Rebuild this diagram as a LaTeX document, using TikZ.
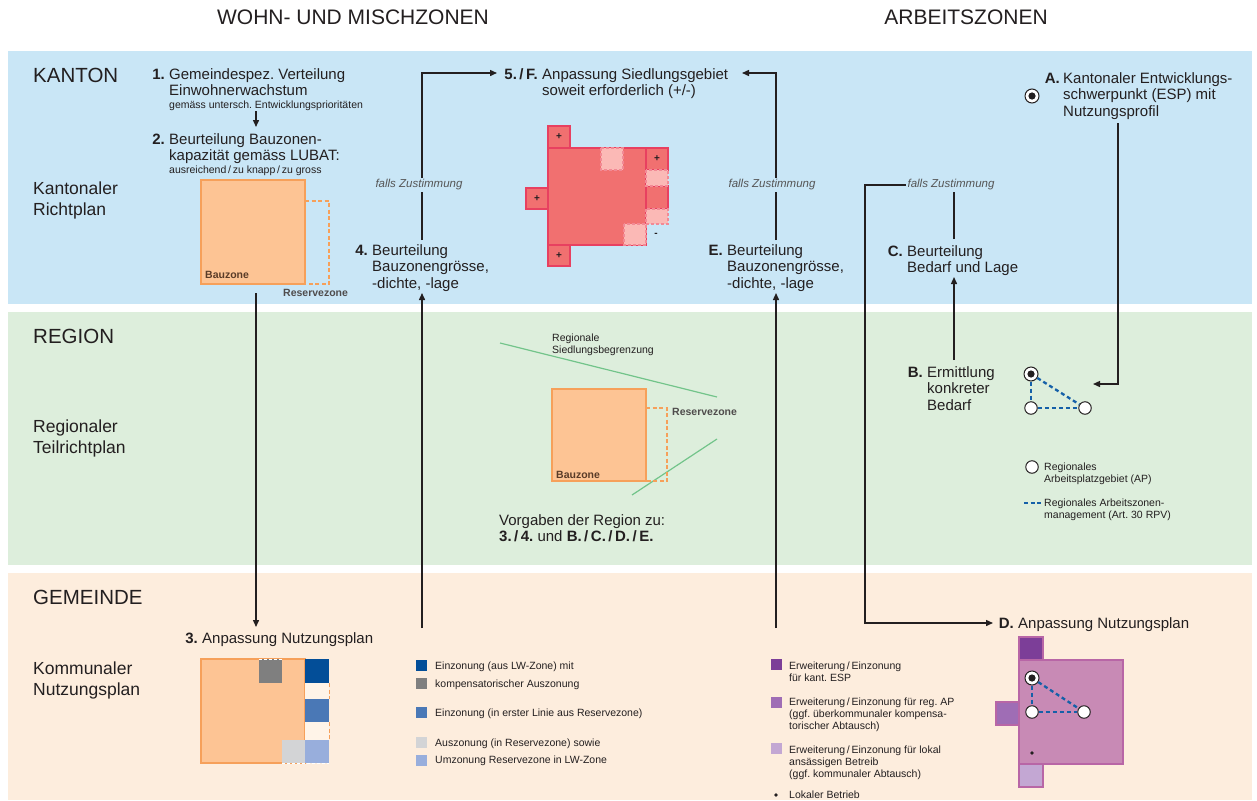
\documentclass[tikz,border=0pt]{standalone}
\usepackage{fontspec}
\setmainfont{Liberation Sans}
\usetikzlibrary{arrows.meta}
\frenchspacing
\definecolor{ink}{HTML}{231F20}
\definecolor{fzc}{HTML}{555555}
\definecolor{bandblue}{HTML}{C9E6F6}
\definecolor{bandgreen}{HTML}{DDEEDC}
\definecolor{bandorange}{HTML}{FDEDDD}
\definecolor{orfill}{HTML}{FDC494}
\definecolor{orbord}{HTML}{F6A05A}
\definecolor{redf}{HTML}{F17070}
\definecolor{redb}{HTML}{E84060}
\definecolor{pinkf}{HTML}{FBB9B6}
\definecolor{pinkb}{HTML}{F28A95}
\definecolor{dblue}{HTML}{034E98}
\definecolor{midgray}{HTML}{7F7F7F}
\definecolor{mblue}{HTML}{4A78B6}
\definecolor{lgray}{HTML}{D3D4D6}
\definecolor{lblue}{HTML}{98AEDC}
\definecolor{creamf}{HTML}{FFF4E8}
\definecolor{purdark}{HTML}{7C3E98}
\definecolor{purmain}{HTML}{C88AB5}
\definecolor{purmid}{HTML}{9F6DB5}
\definecolor{purlight}{HTML}{C3A7D3}
\definecolor{purbord}{HTML}{B866A6}
\definecolor{greenl}{HTML}{72C48A}
\definecolor{dashblue}{HTML}{1560A8}
\definecolor{brownt}{HTML}{5A3C28}
\newcommand{\mlstack}[1]{\begin{tabular}[t]{@{}l@{}}#1\end{tabular}}
\tikzset{
 txt/.style={font=\fontsize{15}{16.5}\selectfont, inner sep=0pt, anchor=base west, text=ink},
 num/.style={font=\fontsize{15}{16.5}\selectfont\bfseries, inner sep=0pt, anchor=base east, text=ink},
 small/.style={font=\fontsize{10.5}{12.2}\selectfont, inner sep=0pt, anchor=base west, text=ink},
 smallb/.style={font=\fontsize{10.5}{12.2}\selectfont\bfseries, inner sep=0pt, anchor=base west, text=#1},
 lvl/.style={font=\fontsize{20.5}{24}\selectfont, inner sep=0pt, anchor=base west, text=ink},
 plan/.style={font=\fontsize{17.5}{21}\selectfont, inner sep=0pt, anchor=base west, text=ink},
 hdr/.style={font=\fontsize{21}{24}\selectfont, inner sep=0pt, anchor=base, text=ink},
 fz/.style={font=\fontsize{11.5}{13}\selectfont\itshape, inner sep=1.5pt, text=fzc},
 ln/.style={draw=ink, line width=1.4pt},
 arr/.style={ln, -{Triangle[length=7pt,width=6pt]}},
 orbox/.style={fill=orfill, draw=orbord, line width=1.2pt},
 ordash/.style={draw=orbord, line width=1.2pt, dash pattern=on 4pt off 2.5pt},
 redbox/.style={fill=redf, draw=redb, line width=1.1pt},
 pinkbox/.style={fill=pinkf, draw=pinkb, line width=1.1pt, dash pattern=on 3pt off 2pt},
 plus/.style={font=\fontsize{10}{12}\selectfont\bfseries, inner sep=0pt, text=ink},
 esp/.style={circle, draw=ink, line width=1pt, fill=white, minimum size=14pt, inner sep=0pt,
   path picture={\fill[ink] (path picture bounding box.center) circle (3.6pt);}},
 apc/.style={circle, draw=ink, line width=1pt, fill=white, minimum size=12.5pt, inner sep=0pt},
 bdash/.style={draw=dashblue, line width=2.3pt, dash pattern=on 4pt off 3pt},
 legsq/.style={inner sep=0pt, minimum size=11pt, fill=#1},
 greenline/.style={draw=greenl, line width=1.2pt},
}
\begin{document}
\begin{tikzpicture}[x=1pt,y=-1pt]
\useasboundingbox (0,0) rectangle (1257,800);
\fill[white] (0,0) rectangle (1257,800);
% bands
\fill[bandblue] (8,51) rectangle (1252,304);
\fill[bandgreen] (8,312) rectangle (1252,565);
\fill[bandorange] (8,573) rectangle (1252,800);

% headers
\node[hdr] (h1) at (353,25) {WOHN- UND MISCHZONEN};
\node[hdr] (h2) at (966,25) {ARBEITSZONEN};

% level labels
\node[lvl] (kanton) at (33,82) {KANTON};
\node[plan] (krp) at (33,194) {\mlstack{Kantonaler\\Richtplan}};
\node[lvl] (region) at (33,343) {REGION};
\node[plan] (rtp) at (33,432) {\mlstack{Regionaler\\Teilrichtplan}};
\node[lvl] (gem) at (33,604) {GEMEINDE};
\node[plan] (knp) at (33,674) {\mlstack{Kommunaler\\Nutzungsplan}};

% ---- Kanton, Wohn
\node[num] (n1) at (165,79) {1.};
\node[txt] (t1) at (169,79) {\mlstack{Gemeindespez. Verteilung\\Einwohnerwachstum}};
\node[small] (t1s) at (169,108) {gemäss untersch. Entwicklungsprioritäten};
\node[num] (n2) at (165,144) {2.};
\node[txt] (t2) at (169,144) {\mlstack{Beurteilung Bauzonen-\\kapazität gemäss LUBAT:}};
\node[small] (t2s) at (169,173) {ausreichend\,/\,zu knapp\,/\,zu gross};

\path[orbox] (201,180) rectangle (305,284);
\draw[ordash] (305,201) -- (329,201) -- (329,284) -- (305,284);
\node[smallb=brownt] (bz1) at (205,278) {Bauzone};
\node[smallb=ink!80] (rz1) at (283,296) {Reservezone};

\node[num] (n4) at (368,255) {4.};
\node[txt] (t4) at (372,255) {\mlstack{Beurteilung\\Bauzonengrösse,\\-dichte, -lage}};

\node[num] (n5) at (538,79) {5.\,/\,F.};
\node[txt] (t5) at (542,79) {\mlstack{Anpassung Siedlungsgebiet\\soweit erforderlich (+/-)}};

% red shape
\path[redbox] (548,148) rectangle (646,245);
\path[redbox] (548,126) rectangle (570,148);
\path[redbox] (548,245) rectangle (570,266);
\path[redbox] (526,188) rectangle (548,209);
\path[redbox] (646,148) rectangle (668,170);
\path[redbox] (646,186) rectangle (668,209);
\path[pinkbox] (646,170) rectangle (668,186);
\path[pinkbox] (646,209) rectangle (668,224);
\path[pinkbox] (601,148) rectangle (623,170);
\path[pinkbox] (624,224) rectangle (646,245);
\node[plus] (pl1) at (559,137) {+};
\node[plus] (pl2) at (559,256) {+};
\node[plus] (pl3) at (537,198.5) {+};
\node[plus] (pl4) at (657,159) {+};
\node[plus] (mi1) at (656,235) {-};

\node[num] (nE) at (723,255) {E.};
\node[txt] (tE) at (727,255) {\mlstack{Beurteilung\\Bauzonengrösse,\\-dichte, -lage}};

% falls Zustimmung
\node[fz] (fz1) at (419,185) {falls Zustimmung};
\node[fz] (fz2) at (772,185) {falls Zustimmung};
\node[fz] (fz3) at (951,185) {falls Zustimmung};

% ---- Kanton, Arbeit
\node[esp] (espA) at (1032,96) {};
\node[num] (nA) at (1060,83) {A.};
\node[txt] (tA) at (1063,83) {\mlstack{Kantonaler Entwicklungs-\\schwerpunkt (ESP) mit\\Nutzungsprofil}};
\node[num] (nC) at (903,256) {C.};
\node[txt] (tC) at (907,256) {\mlstack{Beurteilung\\Bedarf und Lage}};

% ---- Region
\draw[greenline] (500,343) -- (717,397);
\draw[greenline] (632,495) -- (717,439);
\node[small] (rsb) at (552,341.5) {\mlstack{Regionale\\Siedlungsbegrenzung}};
\path[orbox] (552,389) rectangle (646,481);
\draw[ordash] (646,408) -- (667,408) -- (667,481) -- (646,481);
\node[smallb=brownt] (bz2) at (556,478) {Bauzone};
\node[smallb=ink!80] (rz2) at (672,415.5) {Reservezone};
\node[txt] (vorg) at (499,525) {\mlstack{Vorgaben der Region zu:\\\textbf{3.\,/\,4.} und \textbf{B.\,/\,C.\,/\,D.\,/\,E.}}};

\node[num] (nB) at (923,377) {B.};
\node[txt] (tB) at (927,377) {\mlstack{Ermittlung\\konkreter\\Bedarf}};
\node[esp] (e1) at (1031,374) {};
\node[apc] (a1) at (1031,408) {};
\node[apc] (a2) at (1085,408) {};
\draw[bdash] (e1) -- (a1);
\draw[bdash] (a1) -- (a2);
\draw[bdash] (e1) -- (a2);

\node[apc] (legap) at (1032,467) {};
\node[small] (legapt) at (1044,470.5) {\mlstack{Regionales\\Arbeitsplatzgebiet (AP)}};
\coordinate (ld1) at (1024,503);
\coordinate (ld2) at (1041,503);
\draw[bdash, dash pattern=on 4pt off 2.5pt] (ld1) -- (ld2);
\node[small] (legazt) at (1044,506.5) {\mlstack{Regionales Arbeitszonen-\\management (Art. 30 RPV)}};

% ---- Gemeinde, Wohn
\node[num] (n3) at (198,643) {3.};
\node[txt] (t3) at (202,643) {Anpassung Nutzungsplan};
\path[orbox] (201,659) rectangle (305,763);
\fill[midgray] (259,659) rectangle (282,683);
\draw[white, line width=1pt, dash pattern=on 3pt off 2pt] (259,659) -- (282,659);
\fill[dblue] (305,659) rectangle (329,683);
\fill[creamf] (305,683) rectangle (329,699);
\draw[ordash, line width=1pt] (329,683) -- (329,699);
\fill[mblue] (305,699) rectangle (329,722);
\fill[creamf] (305,722) rectangle (329,740);
\draw[ordash, line width=1pt] (329,722) -- (329,740);
\fill[lblue] (305,740) rectangle (329,763);
\fill[lgray] (282,740) rectangle (305,763);
\draw[white, line width=1pt, dash pattern=on 3pt off 2pt] (282,763) -- (329,763);

\node[legsq=dblue] (lq1) at (421.5,665.5) {};
\node[legsq=midgray] (lq2) at (421.5,683.5) {};
\node[legsq=mblue] (lq3) at (421.5,712.5) {};
\node[legsq=lgray] (lq4) at (421.5,742) {};
\node[legsq=lblue] (lq5) at (421.5,760) {};
\node[small] (lt1) at (435,669) {Einzonung (aus LW-Zone) mit};
\node[small] (lt2) at (435,687.5) {kompensatorischer Auszonung};
\node[small] (lt3) at (435,716.5) {Einzonung (in erster Linie aus Reservezone)};
\node[small] (lt4) at (435,746.5) {Auszonung (in Reservezone) sowie};
\node[small] (lt5) at (435,763.5) {Umzonung Reservezone in LW-Zone};

% ---- Gemeinde, Arbeit
\node[num] (nD) at (1014,628) {D.};
\node[txt] (tD) at (1018,628) {Anpassung Nutzungsplan};
\path[fill=purmain, draw=purbord, line width=1.1pt] (1019,660) rectangle (1123,764);
\path[fill=purdark, draw=purbord, line width=1.1pt] (1019,637) rectangle (1043,660);
\path[fill=purmid, draw=purbord, line width=1.1pt] (996,702) rectangle (1019,725);
\path[fill=purlight, draw=purbord, line width=1.1pt] (1019,764) rectangle (1043,787);
\node[esp] (e2) at (1032,678) {};
\node[apc] (b1) at (1032,712) {};
\node[apc] (b2) at (1084,712) {};
\draw[bdash] (e2) -- (b1);
\draw[bdash] (b1) -- (b2);
\draw[bdash] (e2) -- (b2);
\fill[ink] (1032,753) circle (1.8pt);

\node[legsq=purdark] (pq1) at (776.5,664.5) {};
\node[legsq=purmid] (pq2) at (776.5,702.5) {};
\node[legsq=purlight] (pq3) at (776.5,748.5) {};
\fill[ink] (776,795) circle (1.8pt);
\node[small] (pt1) at (789,669.5) {\mlstack{Erweiterung\,/\,Einzonung\\für kant. ESP}};
\node[small] (pt2) at (789,705.5) {\mlstack{Erweiterung\,/\,Einzonung für reg. AP\\(ggf. überkommunaler kompensa-\\torischer Abtausch)}};
\node[small] (pt3) at (789,753.5) {\mlstack{Erweiterung\,/\,Einzonung für lokal\\ansässigen Betreib\\(ggf. kommunaler Abtausch)}};
\node[small] (pt4) at (789,798.5) {Lokaler Betrieb};

% ---- connectors
\coordinate (c12a) at (256,111);
\coordinate (c12b) at (256,127);
\draw[arr] (c12a) -- (c12b);
\coordinate (c23a) at (256,293);
\coordinate (c23b) at (256,627);
\draw[arr] (c23a) -- (c23b);
\coordinate (c34a) at (422,628);
\coordinate (c34b) at (422,293);
\draw[arr] (c34a) -- (c34b);
\coordinate (c4top) at (422,240);
\coordinate (c5in) at (497,73);
\draw[ln] (c4top) -- (c4top |- fz1.south);
\draw[arr] (c4top |- fz1.north) |- (c5in);
\coordinate (cEa) at (776,628);
\coordinate (cEb) at (776,293);
\draw[arr] (cEa) -- (cEb);
\coordinate (cEtop) at (776,240);
\coordinate (cFin) at (742,73);
\draw[ln] (cEtop) -- (cEtop |- fz2.south);
\draw[arr] (cEtop |- fz2.north) |- (cFin);
\coordinate (cBC1) at (954,360);
\coordinate (cBC2) at (954,277);
\draw[arr] (cBC1) -- (cBC2);
\coordinate (cCtop) at (954,239);
\draw[ln] (cCtop) -- (cCtop |- fz3.south);
\coordinate (cDcorner) at (865,185);
\coordinate (cDin) at (993,623);
\draw[arr] (fz3.west) -- (cDcorner) |- (cDin);
\coordinate (cA1) at (1118,123);
\coordinate (cA2) at (1093,384);
\draw[arr] (cA1) |- (cA2);
\end{tikzpicture}
\end{document}
